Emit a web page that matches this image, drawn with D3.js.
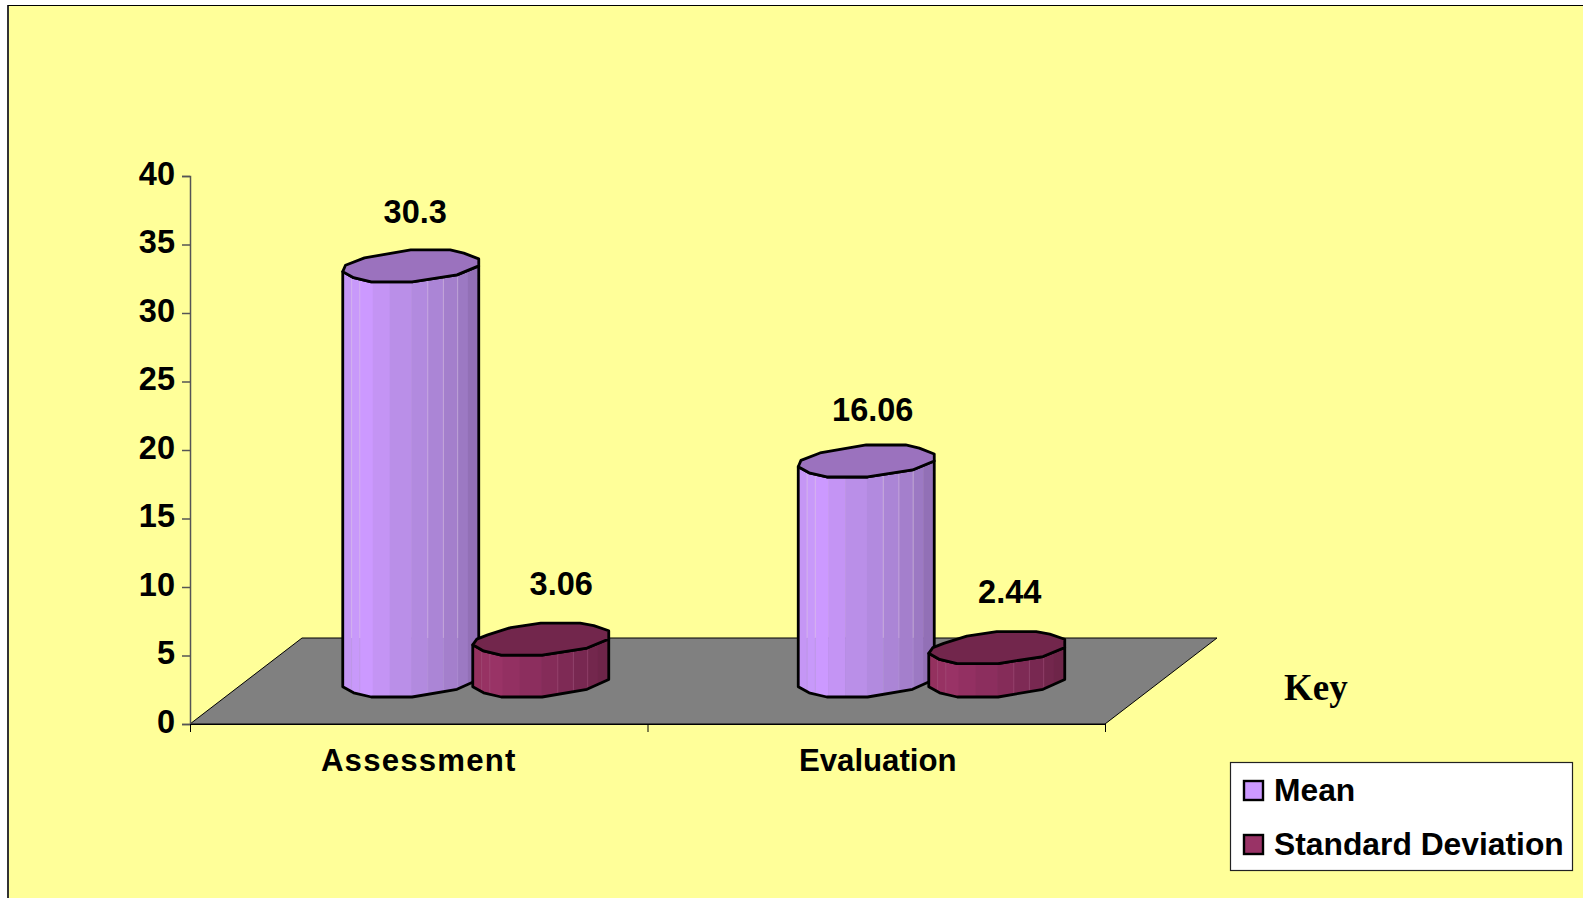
<!DOCTYPE html>
<html>
<head>
<meta charset="utf-8">
<style>
html,body{margin:0;padding:0;background:#fff;overflow:hidden}
svg{display:block}
text{font-family:"Liberation Sans",Arial,sans-serif;font-weight:700;fill:#000}
</style>
<script src="https://cdn.jsdelivr.net/npm/d3@7/dist/d3.min.js"></script>
</head>
<body>
<svg id="chart" width="1583" height="898"></svg>
<script>
// Chart content
const categories = ["Assessment", "Evaluation"];
const seriesNames = ["Mean", "Standard Deviation"];
const meanValues = [30.3, 16.06];
const sdValues = [3.06, 2.44];
const yTicks = [0, 5, 10, 15, 20, 25, 30, 35, 40];
const keyTitle = "Key";

// Colours for each series: side strips run left to right
const seriesStyles = [
  {swatch: "#CC99FF", top: "#9B72BE", line: "#E0CCE6", lineLow: "#B79AD8",
   strips: ["#C596F5","#C899FA","#CC99FF","#C494F4","#BA8FE8","#B28ADF","#AB85D6","#A47FCC","#9C79C3","#9270B6"]},
  {swatch: "#993366", top: "#72264C", line: "#A85A82", lineLow: "#A85A82",
   strips: ["#94315F","#973263","#993366","#933062","#8C2E5E","#852C59","#7E2A55","#782851","#73274D","#6E2549"]}
];

// Plot geometry
const W = 1583, H = 898;
const axisX = 190, axisRight = 1105, y0 = 724, y40 = 176;
const floorDx = 112, floorDy = 86;
const barW = 136, baseLift = 27;
const categoryNudge = [[0, 0], [-2, -1.5]];

// Outline of the faceted column, in fractions of its width and of its cap depth
const capBacks = [
  [[0,.68],[.02,.48],[.16,.25],[.5,0],[.79,0],[.89,.1],[1,.28]],
  [[0,.68],[.03,.5],[.11,.37],[.28,.14],[.5,0],[.79,0],[.89,.08],[1,.24]]
];
const capFront = [[1,.5],[.84,.78],[.51,1],[.21,1],[.08,.87],[0,.68]];
const baseFront = [[0,.68],[.08,.87],[.21,1],[.51,1],[.84,.76],[1,.45]];
const stripStops = [0,.065,.125,.22,.345,.505,.625,.74,.845,.92,1];
const facetLines = [.065,.125,.625,.74,.845];
const capDepth = 32;

const svg = d3.select("#chart");
svg.append("rect").attr("x", 8).attr("y", 5).attr("width", W).attr("height", H)
  .attr("fill", "#FFFF99");
svg.append("line").attr("x1", 8).attr("x2", 8).attr("y1", 5).attr("y2", H)
  .attr("stroke", "#333").attr("stroke-width", 2);
svg.append("line").attr("x1", 8).attr("x2", W).attr("y1", 5.5).attr("y2", 5.5)
  .attr("stroke", "#000").attr("stroke-width", 1);

const y = d3.scaleLinear().domain([0, 40]).range([y0, y40]);
const xBand = d3.scaleBand().domain(categories).range([axisX, axisRight]);
const xSeries = d3.scalePoint().domain(seriesNames).range([-76, 54]);

// Floor of the 3D plot
const floorPath = d3.path();
floorPath.moveTo(axisX, y0);
floorPath.lineTo(axisX + floorDx, y0 - floorDy);
floorPath.lineTo(axisRight + floorDx, y0 - floorDy);
floorPath.lineTo(axisRight, y0);
floorPath.closePath();
svg.append("path").attr("d", floorPath.toString())
  .attr("fill", "#808080").attr("stroke", "#000").attr("stroke-width", 1);

// Axes
const yAxis = svg.append("g").attr("transform", `translate(${axisX},0)`)
  .call(d3.axisLeft(y).tickValues(yTicks).tickSize(8).tickPadding(7));
yAxis.selectAll("path,line").attr("stroke", "#555").attr("stroke-width", 1.5);
yAxis.selectAll("text").style("font-size", "32.5px").attr("dy", "0.25em");

const xBoundaries = d3.scaleLinear().domain([0, categories.length]).range([axisX, axisRight]);
svg.append("g").attr("transform", `translate(0,${y0})`)
  .call(d3.axisBottom(xBoundaries).tickValues(d3.range(categories.length + 1)).tickSize(8).tickFormat(""))
  .call(g => g.selectAll("path,line").attr("stroke", "#000").attr("stroke-width", 1));

const xLabels = svg.append("g").attr("transform", `translate(0,${y0})`)
  .call(d3.axisBottom(xBand).tickSize(0).tickPadding(25));
xLabels.select("path").remove();
xLabels.selectAll("text")
  .style("font-size", "31.2px")
  .style("letter-spacing", d => d === "Assessment" ? "1.2px" : "0px")
  .attr("dx", d => d === "Evaluation" ? 1.5 : 0);

// Columns
const defs = svg.append("defs");
const columnLine = d3.line();
function drawColumn(cat, catIndex, seriesIndex, value, key) {
  const st = seriesStyles[seriesIndex];
  const left = xBand(cat) + xBand.bandwidth() / 2 + xSeries(seriesNames[seriesIndex]) + categoryNudge[catIndex][seriesIndex];
  const frontTop = y(value) - baseLift;
  const frontBase = y0 - baseLift;
  const floorBack = y0 - floorDy;
  const px = f => left + f * barW;
  const cap = (front) => ([fx, fy]) => [px(fx), front - capDepth + fy * capDepth];
  const g = svg.append("g");
  const side = [...baseFront.map(cap(frontBase)), ...capFront.map(cap(frontTop))];
  const clipId = "clip-" + key;
  defs.append("clipPath").attr("id", clipId).append("path").attr("d", columnLine(side) + "Z");
  const strips = g.append("g").attr("clip-path", `url(#${clipId})`);
  strips.selectAll("rect").data(st.strips).join("rect")
    .attr("x", (d, i) => px(stripStops[i]))
    .attr("width", (d, i) => (stripStops[i + 1] - stripStops[i]) * barW + .5)
    .attr("y", frontTop - capDepth)
    .attr("height", frontBase - frontTop + capDepth + 2)
    .attr("fill", d => d);
  // Facet seams read brighter where the column stands against the wall
  strips.selectAll("line.upper").data(facetLines).join("line").attr("class", "upper")
    .attr("x1", px).attr("x2", px)
    .attr("y1", frontTop - capDepth)
    .attr("y2", Math.max(floorBack, frontTop - capDepth))
    .attr("stroke", st.line).attr("stroke-width", 1).attr("stroke-opacity", .5);
  strips.selectAll("line.lower").data(facetLines).join("line").attr("class", "lower")
    .attr("x1", px).attr("x2", px)
    .attr("y1", Math.max(floorBack, frontTop - capDepth))
    .attr("y2", frontBase + 10)
    .attr("stroke", st.lineLow).attr("stroke-width", 1).attr("stroke-opacity", .5);
  g.append("path").attr("d", columnLine(side) + "Z")
    .attr("fill", "none").attr("stroke", "#000").attr("stroke-width", 2.8).attr("stroke-linejoin", "round");
  const capPts = [...capBacks[seriesIndex], ...capFront].map(cap(frontTop));
  g.append("path").attr("d", columnLine(capPts) + "Z")
    .attr("fill", st.top).attr("stroke", "#000").attr("stroke-width", 2.8).attr("stroke-linejoin", "round");
  return {left, frontTop};
}

// Value labels sit above each column
const labelShift = [[[4.5,-59],[20.5,-60]],[[6.5,-56],[13,-61]]];
categories.forEach((cat, ci) => {
  [meanValues, sdValues].forEach((vals, si) => {
    const v = vals[ci];
    const c = drawColumn(cat, ci, si, v, ci + "-" + si);
    svg.append("text")
      .attr("x", c.left + barW / 2 + labelShift[ci][si][0])
      .attr("y", c.frontTop + labelShift[ci][si][1])
      .attr("text-anchor", "middle").style("font-size", "32.5px")
      .text(v);
  });
});

// Key
svg.append("text").attr("x", 1284).attr("y", 700)
  .style("font-family", '"Liberation Serif","Times New Roman",serif')
  .style("font-size", "37px").text(keyTitle);

const legend = svg.append("g");
legend.append("rect").attr("x", 1230.5).attr("y", 762.5).attr("width", 342).attr("height", 108)
  .attr("fill", "#fff").attr("stroke", "#222").attr("stroke-width", 1.2);
const legendRow = d3.scalePoint().domain(seriesNames).range([801, 855]);
seriesNames.forEach((name, i) => {
  legend.append("rect").attr("x", 1244).attr("y", legendRow(name) - 20)
    .attr("width", 19).attr("height", 19)
    .attr("fill", seriesStyles[i].swatch).attr("stroke", "#000").attr("stroke-width", 2.4);
  legend.append("text").attr("x", 1274).attr("y", legendRow(name))
    .style("font-size", "31.8px").text(name);
});
</script>
</body>
</html>
